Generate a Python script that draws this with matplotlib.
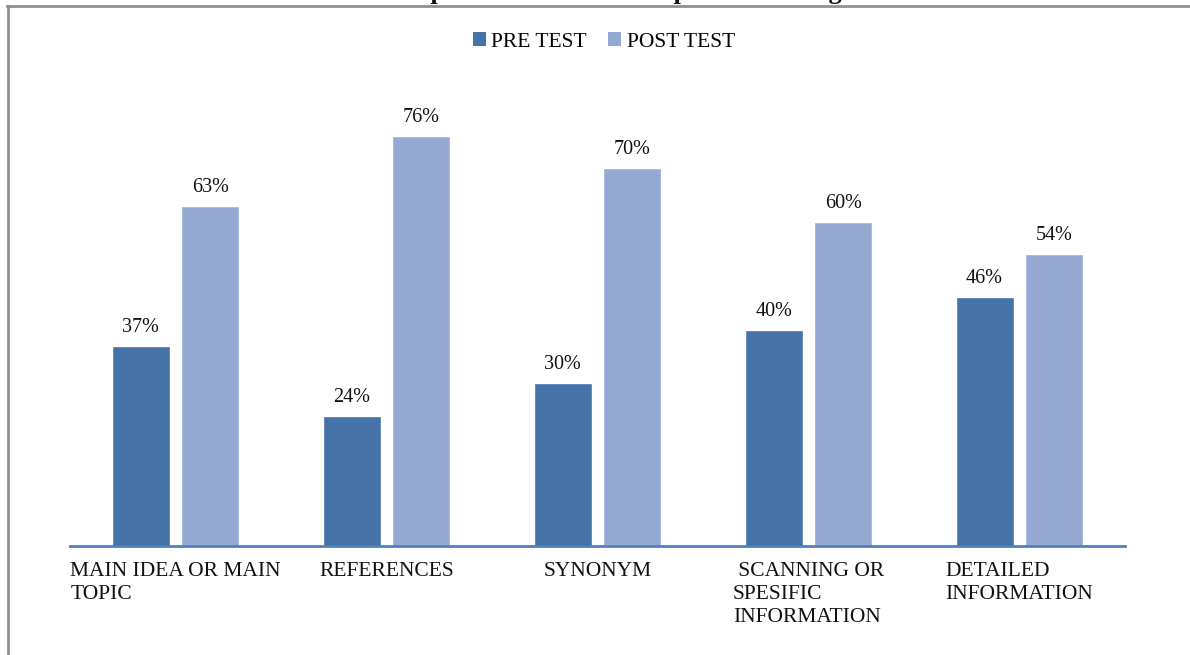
import matplotlib
matplotlib.use("Agg")
import matplotlib.pyplot as plt
from matplotlib.lines import Line2D
from matplotlib.patches import Patch
import numpy as np

categories = ["MAIN IDEA OR MAIN\nTOPIC", "REFERENCES", "SYNONYM",
              " SCANNING OR\nSPESIFIC\nINFORMATION", "DETAILED\nINFORMATION"]
pre_test = [37, 24, 30, 40, 46]
post_test = [63, 76, 70, 60, 54]
series_names = ["PRE TEST", "POST TEST"]
title = "Table 4. Improvement on each aspect of reading"

W, H = 1190, 655
fig = plt.figure(figsize=(W / 100, H / 100), dpi=100)
plt.rcParams['font.family'] = ['Liberation Serif', 'DejaVu Serif']

def fx(px):
    return px / W

def fy(py):
    return 1 - py / H

# axes: x from 70 to 1125 px, y zero at 546 px
ylim_top = 80
px_per_unit = 5.385
top_px = 546 - ylim_top * px_per_unit
ax = fig.add_axes([fx(70), fy(546), fx(1125) - fx(70), (546 - top_px) / H])
ax.set_xlim(-0.5, len(categories) - 0.5)
ax.set_ylim(0, ylim_top)

x = np.arange(len(categories))
bw = 0.265
gap = 0.066
off = (bw + gap) / 2
c_pre = "#4572A7"
c_post = "#95AAD3"
b1 = ax.bar(x - off, pre_test, bw, color=c_pre, edgecolor="#5A85B8", linewidth=0.6)
b2 = ax.bar(x + off, post_test, bw, color=c_post, edgecolor="#A5B8DC", linewidth=0.6)

for bars, vals in ((b1, pre_test), (b2, post_test)):
    for r, v in zip(bars, vals):
        ax.annotate(f"{v}%", (r.get_x() + r.get_width() / 2, v),
                    xytext=(0, 10), textcoords="offset pixels",
                    ha="center", va="bottom", fontsize=14.5, color="#111111")

for s in ["top", "right", "left"]:
    ax.spines[s].set_visible(False)
ax.spines["bottom"].set_color("#4F81BD")
ax.spines["bottom"].set_linewidth(2)
ax.set_yticks([])
ax.set_xticks([])

for xi, lab in zip(x, categories):
    ax.annotate(lab, (xi, 0), xytext=(0, -16), textcoords="offset pixels",
                ha="center", va="top", multialignment="left",
                fontsize=15.5, linespacing=1.28, color="#111111",
                annotation_clip=False)

handles = [Patch(facecolor=c_pre), Patch(facecolor=c_post)]
fig.legend(handles, series_names, loc="center", bbox_to_anchor=(fx(604), fy(42)),
           ncol=2, frameon=False, fontsize=15.5, handlelength=0.6, handleheight=0.6,
           handletextpad=0.25, columnspacing=1.0)

# frame lines
fig.add_artist(Line2D([fx(7), 1], [fy(6), fy(6)], color="#909090", linewidth=2))
fig.add_artist(Line2D([fx(7.5), fx(7.5)], [fy(6), 0], color="#909090", linewidth=2))

# clipped title (only its lower edge shows in the reference)
fig.text(fx(572), fy(-1), title, ha="center", va="baseline",
         fontsize=19, fontweight="bold", color="#111111")

fig.savefig("out.png", dpi=100)
